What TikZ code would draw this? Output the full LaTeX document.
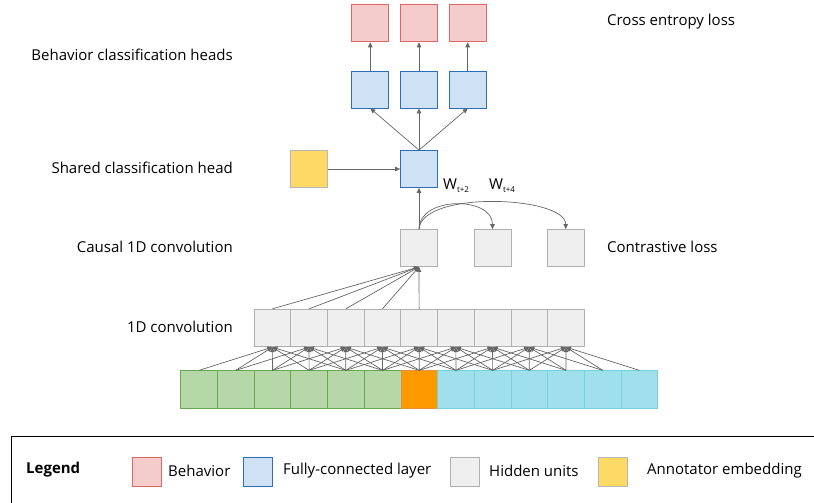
\documentclass[tikz,border=0pt]{standalone}
\usepackage{fontspec}
\setmainfont{Open Sans}
\usetikzlibrary{arrows.meta}

\definecolor{behfill}{HTML}{F4CCCC}
\definecolor{behline}{HTML}{E06666}
\definecolor{fcfill}{HTML}{CFE2F3}
\definecolor{fcline}{HTML}{2F6DB5}
\definecolor{hidfill}{HTML}{EFEFEF}
\definecolor{hidline}{HTML}{B0B0B0}
\definecolor{annfill}{HTML}{FFD966}
\definecolor{annline}{HTML}{B7B7B7}
\definecolor{pastfill}{HTML}{B6D7A8}
\definecolor{pastline}{HTML}{6AA84F}
\definecolor{nowfill}{HTML}{FF9900}
\definecolor{nowline}{HTML}{E69138}
\definecolor{futfill}{HTML}{9FE0EC}
\definecolor{futline}{HTML}{76D1DB}
\definecolor{arrowgray}{HTML}{666666}

\newcommand{\Wlabel}[1]{W{\fontsize{8}{8}\selectfont\raisebox{-3pt}{#1}}}

\begin{document}
\begin{tikzpicture}[x=1pt, y=-1pt, font=\fontsize{15}{18}\selectfont,
	unit/.style={draw, line width=0.8pt, minimum size=37pt, inner sep=0pt},
	behavior/.style={unit, draw=behline, fill=behfill},
	fclayer/.style={unit, draw=fcline, fill=fcfill},
	hidden/.style={unit, draw=hidline, fill=hidfill},
	annot/.style={unit, draw=annline, fill=annfill},
	cell/.style={draw, line width=0.8pt, minimum width=36.7pt, minimum height=37.5pt, inner sep=0pt},
	conn/.style={draw=arrowgray, line width=0.7pt, -{Triangle[length=5pt,width=4.5pt]}},
	legbox/.style={draw, line width=0.8pt, minimum size=29pt, inner sep=0pt},
	lbl/.style={anchor=west, inner sep=0pt}]
	\useasboundingbox (0,0) rectangle (814,503);
	\clip (0,0) rectangle (814,503);
	% input frames
	\foreach \i in {0,...,12} {
		\ifnum\i<6 \def\cl{pastline}\def\fl{pastfill}\else
		\ifnum\i=6 \def\cl{nowline}\def\fl{nowfill}\else
		\def\cl{futline}\def\fl{futfill}\fi\fi
		\node[cell, draw=\cl, fill=\fl] (in\i) at (199.05+36.7*\i,389.5) {};
	}
	% 1D convolution
	\foreach \j in {0,...,8}
		\node[cell, draw=hidline, fill=hidfill] (cv\j) at (272.35+36.7*\j,328) {};
	\foreach \j in {0,...,8}
		\foreach \k in {0,...,4} {
			\pgfmathtruncatemacro\i{\j+\k}
			\draw[conn] (in\i.north) -- (cv\j.south);
		}
	% causal convolution and contrastive targets
	\node[hidden] (causal) at (419,248) {};
	\node[hidden] (ctr2) at (492.5,248) {};
	\node[hidden] (ctr4) at (565.7,248) {};
	\foreach \j in {0,...,4}
		\draw[conn] (cv\j.north) -- (causal.south);
	\draw[conn] (causal.north) .. controls (419,196) and (492.5,196) .. (ctr2.north);
	\draw[conn] (causal.north) .. controls (422,190) and (565.7,196) .. (ctr4.north);
	\node[lbl] (w2) at (443,186) {\Wlabel{t+2}};
	\node[lbl] (w4) at (489,186) {\Wlabel{t+4}};
	% heads
	\node[fclayer] (shared) at (419,169) {};
	\node[annot] (annot) at (309,169) {};
	\draw[conn] (causal.north) -- (shared.south);
	\draw[conn] (annot.east) -- (shared.west);
	\foreach \n/\x in {1/370.3,2/419,3/467.7} {
		\node[fclayer] (head\n) at (\x,89.5) {};
		\node[behavior] (beh\n) at (\x,23.4) {};
		\draw[conn] (shared.north) -- (head\n.south);
		\draw[conn] (head\n.north) -- (beh\n.south);
	}
	% side labels
	\node[anchor=east, inner sep=0pt] (lblbeh) at (233,55) {Behavior classification heads};
	\node[anchor=east, inner sep=0pt] (lblshared) at (233,168) {Shared classification head};
	\node[anchor=east, inner sep=0pt] (lblcausal) at (233,247) {Causal 1D convolution};
	\node[anchor=east, inner sep=0pt] (lblconv) at (233,327) {1D convolution};
	\node[lbl] (lblce) at (607,22) {Cross entropy loss};
	\node[lbl] (lblctr) at (607,247) {Contrastive loss};
	% legend
	\draw[line width=0.8pt] (11,436.5) rectangle (840,540);
	\node[lbl, font=\fontsize{15}{18}\selectfont\bfseries] (leg) at (26,470) {Legend};
	\node[legbox, draw=behline, fill=behfill] (lgbeh) at (147,472) {};
	\node[lbl] at (168,471) {Behavior};
	\node[legbox, draw=fcline, fill=fcfill] (lgfc) at (257.5,472) {};
	\node[lbl] at (283,471) {Fully-connected layer};
	\node[legbox, draw=hidline, fill=hidfill] (lghid) at (464.5,472) {};
	\node[lbl] at (489,471) {Hidden units};
	\node[legbox, draw=annline, fill=annfill] (lgann) at (612.5,472) {};
	\node[lbl] at (647,471) {Annotator embedding};
\end{tikzpicture}
\end{document}
